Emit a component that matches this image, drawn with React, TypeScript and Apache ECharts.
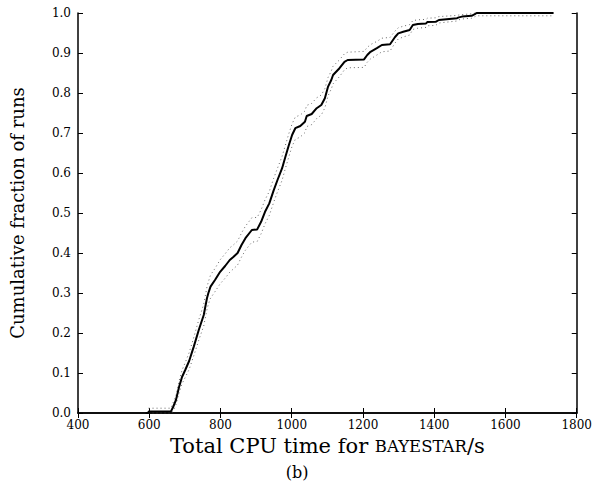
import React, { useEffect, useRef } from "react";
import * as echarts from "echarts";

// Empirical CDF (solid line): x = CPU time (s), y = cumulative fraction
const cdfX = [590, 598, 598, 661, 667, 675, 684, 692, 701, 712, 725, 739, 753, 762, 766, 772, 785, 799, 813, 826, 836, 848, 859, 870, 888, 903, 914, 925, 937, 949, 960, 973, 982, 992, 1001, 1010, 1024, 1037, 1042, 1056, 1070, 1083, 1093, 1102, 1111, 1116, 1134, 1148, 1157, 1203, 1212, 1221, 1239, 1253, 1276, 1290, 1299, 1313, 1331, 1340, 1354, 1377, 1381, 1404, 1413, 1464, 1469, 1478, 1505, 1514, 1519, 1735];
const cdfY = [0, 0, 0.004, 0.004, 0.015, 0.0325, 0.066, 0.09, 0.1075, 0.13, 0.166, 0.2075, 0.245, 0.287, 0.3, 0.316, 0.333, 0.353, 0.3675, 0.3825, 0.39, 0.4, 0.42, 0.437, 0.4575, 0.459, 0.478, 0.503, 0.524, 0.556, 0.5825, 0.612, 0.64, 0.67, 0.695, 0.712, 0.7175, 0.728, 0.7425, 0.7475, 0.762, 0.77, 0.787, 0.816, 0.8325, 0.845, 0.862, 0.878, 0.8825, 0.884, 0.895, 0.903, 0.912, 0.92, 0.922, 0.94, 0.949, 0.953, 0.9575, 0.97, 0.9725, 0.974, 0.9775, 0.978, 0.9825, 0.987, 0.989, 0.991, 0.993, 0.997, 1.0, 1.0];

// Confidence band (dotted lines)
const bandX = [598, 661, 667, 675, 684, 692, 701, 712, 725, 739, 753, 762, 766, 772, 785, 799, 813, 826, 836, 848, 859, 870, 888, 903, 914, 925, 937, 949, 960, 973, 982, 992, 1001, 1010, 1024, 1037, 1042, 1056, 1070, 1083, 1093, 1102, 1111, 1116, 1134, 1148, 1157, 1203, 1212, 1221, 1239, 1253, 1276, 1290, 1299, 1313, 1331, 1340, 1354, 1377, 1381, 1404, 1413, 1464, 1469, 1478, 1505, 1514, 1519, 1735];
const upperY = [0.012, 0.012, 0.026, 0.044, 0.081, 0.107, 0.126, 0.151, 0.189, 0.233, 0.272, 0.315, 0.328, 0.345, 0.362, 0.383, 0.398, 0.413, 0.42, 0.43, 0.45, 0.467, 0.488, 0.489, 0.508, 0.533, 0.554, 0.586, 0.612, 0.642, 0.669, 0.699, 0.723, 0.74, 0.745, 0.755, 0.769, 0.774, 0.788, 0.795, 0.811, 0.839, 0.855, 0.867, 0.883, 0.898, 0.902, 0.904, 0.914, 0.921, 0.929, 0.937, 0.939, 0.955, 0.963, 0.967, 0.971, 0.981, 0.983, 0.984, 0.987, 0.988, 0.991, 0.994, 0.995, 0.996, 0.998, 1.0, 1.0, 1.0];
const lowerY = [0, 0, 0.004, 0.021, 0.051, 0.073, 0.089, 0.109, 0.143, 0.182, 0.218, 0.259, 0.272, 0.287, 0.304, 0.323, 0.337, 0.352, 0.36, 0.37, 0.39, 0.407, 0.427, 0.429, 0.448, 0.473, 0.494, 0.526, 0.553, 0.582, 0.611, 0.641, 0.667, 0.684, 0.69, 0.701, 0.716, 0.721, 0.736, 0.745, 0.763, 0.793, 0.81, 0.823, 0.841, 0.858, 0.863, 0.864, 0.877, 0.885, 0.895, 0.903, 0.905, 0.925, 0.935, 0.94, 0.945, 0.959, 0.962, 0.964, 0.968, 0.969, 0.975, 0.98, 0.983, 0.985, 0.987, 0.991, 0.993, 0.993];

const xTitle = "Total CPU time for {sc|BAYESTAR}/s";
const yTitle = "Cumulative fraction of runs";
const caption = "(b)";

const SERIF = "DejaVu Serif";

export default function App() {
  const ref = useRef<HTMLDivElement>(null);
  useEffect(() => {
    if (!ref.current) return;
    const chart = echarts.init(ref.current, null, { renderer: "svg" });
    const zip = (xs: number[], ys: number[]) => xs.map((x, i) => [x, ys[i]]);
    const axisLine = { show: true, lineStyle: { color: "#000", width: 1.5 } };
    const tick = { show: true, inside: true, length: 5, lineStyle: { color: "#000", width: 1 } };
    const label = { color: "#000", fontFamily: SERIF, fontSize: 12 };
    chart.setOption({
      animation: false,
      backgroundColor: "#fff",
      grid: { left: 70, right: 16, top: 13, bottom: 82, containLabel: false },
      xAxis: [
        {
          type: "value", min: 400, max: 1800, interval: 200, position: "bottom",
          axisLine, axisTick: tick, splitLine: { show: false },
          axisLabel: { ...label, margin: 6, formatter: (v: number) => String(v) },
          name: xTitle, nameLocation: "middle", nameGap: 22,
          nameTextStyle: {
            color: "#000", fontFamily: SERIF, fontSize: 21,
            rich: { sc: { fontFamily: SERIF, fontSize: 16.5, color: "#000" } },
          },
        },
        {
          type: "value", min: 400, max: 1800, interval: 200, position: "top",
          axisLine, axisTick: tick, axisLabel: { show: false }, splitLine: { show: false },
        },
      ],
      yAxis: [
        {
          type: "value", min: 0, max: 1, interval: 0.1, position: "left",
          axisLine, axisTick: tick, splitLine: { show: false },
          axisLabel: { ...label, margin: 7, formatter: (v: number) => v.toFixed(1) },
          name: yTitle, nameLocation: "middle", nameGap: 52, nameRotate: 90,
          nameTextStyle: { color: "#000", fontFamily: SERIF, fontSize: 18 },
        },
        {
          type: "value", min: 0, max: 1, interval: 0.1, position: "right",
          axisLine, axisTick: tick, axisLabel: { show: false }, splitLine: { show: false },
        },
      ],
      graphic: [
        {
          type: "text", x: 297, y: 472,
          style: { text: caption, font: `16px "${SERIF}"`, fill: "#000", align: "center", verticalAlign: "middle" },
        },
      ],
      series: [
        {
          type: "line", data: zip(bandX, upperY), showSymbol: false, symbol: "none",
          lineStyle: { color: "#666", width: 1, type: [1, 3] }, z: 2,
        },
        {
          type: "line", data: zip(bandX, lowerY), showSymbol: false, symbol: "none",
          lineStyle: { color: "#666", width: 1, type: [1, 3] }, z: 2,
        },
        {
          type: "line", data: zip(cdfX, cdfY), showSymbol: false, symbol: "none",
          lineStyle: { color: "#000", width: 2 }, z: 3,
        },
      ],
    });
    return () => chart.dispose();
  }, []);
  return <div ref={ref} style={{ position: "fixed", left: 0, top: 0, width: 595, height: 495 }} />;
}
